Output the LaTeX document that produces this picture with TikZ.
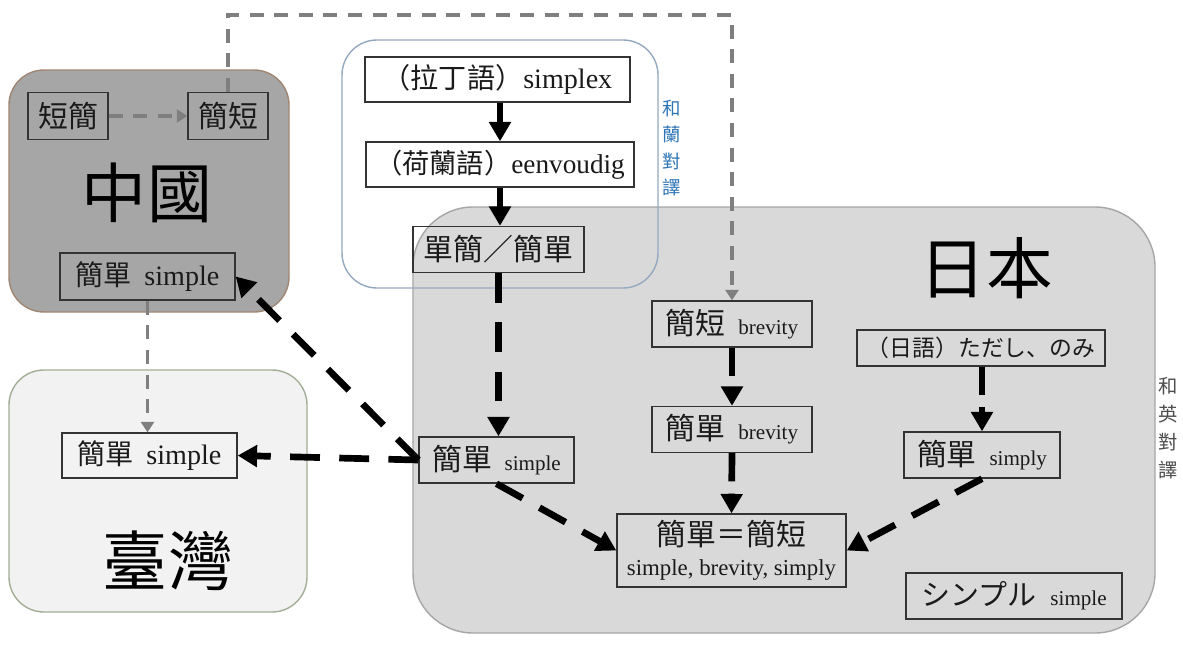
\documentclass[tikz,border=0pt]{standalone}
\usepackage{fontspec}
\setmainfont{Liberation Serif}
\newfontfamily\cjk{Noto Sans CJK TC}
\newfontfamily\cjkjp{Noto Sans CJK JP}
\usetikzlibrary{arrows.meta}
\definecolor{chinafill}{HTML}{A6A6A6}
\definecolor{chinaline}{HTML}{A08672}
\definecolor{twfill}{HTML}{F2F2F2}
\definecolor{twline}{HTML}{A3AE96}
\definecolor{jpfill}{HTML}{D9D9D9}
\definecolor{jpline}{HTML}{A6A6A6}
\definecolor{nlline}{HTML}{94A9BF}
\definecolor{nltext}{HTML}{2E75B6}
\definecolor{grayline}{HTML}{7F7F7F}
\definecolor{boxline}{HTML}{333333}
\definecolor{txt}{HTML}{1A1A1A}
\newcommand{\lat}[1]{{\fontsize{12}{14}\selectfont #1}}
\begin{document}
\begin{tikzpicture}[x=0.02cm,y=-0.02cm,
  bx/.style={draw=boxline, line width=0.8pt, inner sep=0pt, text=txt, font=\fontsize{16}{18}\selectfont},
  sz/.style 2 args={minimum width=#1*0.02cm, minimum height=#2*0.02cm},
  solidarr/.style={line width=3.6pt, -{Triangle[length=11pt,width=12pt]}},
  dasharr/.style={line width=3.8pt, dash pattern=on 17pt off 11pt, -{Triangle[length=11pt,width=12pt]}},
  shortarr/.style={line width=3.8pt, dash pattern=on 16pt off 7pt, -{Triangle[length=11pt,width=12pt]}},
  grayarr/.style={draw=grayline, line width=2.2pt, dash pattern=on 8pt off 6pt, -{Triangle[length=6pt,width=7.5pt]}},
  title/.style={font=\cjk\fontsize{37}{40}\selectfont, text=black},
  vlabel/.style={align=center, inner sep=0pt, font=\cjk\fontsize{10.5}{15}\selectfont},
]
\useasboundingbox (0,0) rectangle (1183,646);
\fill[white] (0,0) rectangle (1183,646);

% region boxes
\draw[fill=jpfill, draw=jpline, line width=0.8pt, rounded corners=1.2cm] (413,207) rectangle (1155,633);
\draw[fill=chinafill, draw=chinaline, line width=0.8pt, rounded corners=0.7cm] (9,70) rectangle (289,312);
\draw[fill=twfill, draw=twline, line width=0.8pt, rounded corners=0.7cm] (9,370) rectangle (307,612);
\draw[draw=nlline, line width=0.8pt, rounded corners=0.7cm] (342,40) rectangle (658,288);

% titles
\node[title] (tCN) at (147,193) {中國};
\node[title] (tTW) at (168,561) {臺灣};
\node[title, font=\cjk\fontsize{38}{40}\selectfont] (tJP) at (986,268) {日本};

% vertical labels
\node[vlabel, text=nltext] (lNL) at (672,148) {和\\蘭\\對\\譯};
\node[vlabel, text=black!70, font=\cjk\fontsize{11}{16}\selectfont] (lEN) at (1168,428) {和\\英\\對\\譯};

% China
\node[bx, sz={80}{47}, font=\cjk\fontsize{17}{19}\selectfont] (cA) at (68,116) {短簡};
\node[bx, sz={80}{47}, font=\cjk\fontsize{17}{19}\selectfont] (cB) at (228,116) {簡短};
\node[bx, sz={175}{47}] (cS) at (147.5,276.5) {{\cjk 簡單}\hspace{0.45em}simple};

% Taiwan
\node[bx, sz={175}{45}] (tS) at (149.5,455.5) {{\cjk 簡單}\hspace{0.45em}simple};

% Dutch
\node[bx, sz={265}{45}, fill=white] (dL) at (497.5,79.5) {{\cjk （拉丁語）}simplex};
\node[bx, sz={268}{45}, fill=white, font=\fontsize{15.5}{18}\selectfont] (dD) at (500,164.5) {{\cjk （荷蘭語）}eenvoudig};
\node[bx, sz={171}{46}, font=\cjk\fontsize{17}{19}\selectfont] (dJ) at (498.5,249.5) {單簡／簡單};

% Japan
\node[bx, sz={160}{46}] (jB1) at (732,324) {{\cjk\fontsize{17}{19}\selectfont 簡短}\hspace{0.45em}\lat{brevity}};
\node[bx, sz={160}{46}] (jB2) at (732,429.5) {{\cjk\fontsize{17}{19}\selectfont 簡單}\hspace{0.45em}\lat{brevity}};
\node[bx, sz={248}{36}, font=\cjkjp\fontsize{13}{15}\selectfont] (jT) at (981,348) {（日語）ただし、のみ};
\node[bx, sz={156}{46}] (jY) at (982,455) {{\cjk\fontsize{17}{19}\selectfont 簡單}\hspace{0.45em}\lat{simply}};
\node[bx, sz={155}{46}] (jS) at (496.5,460) {{\cjk\fontsize{17}{19}\selectfont 簡單}\hspace{0.45em}\lat{simple}};
\node[bx, sz={229}{73}, align=center] (jE) at (731.5,550.5) {{\cjk\fontsize{17}{21}\selectfont 簡單＝簡短}\\[-1pt]{\fontsize{13}{15}\selectfont simple, brevity, simply}};
\node[bx, sz={216}{46}] (jP) at (1014,596) {{\cjkjp\fontsize{16.5}{19}\selectfont シンプル}\hspace{0.5em}\lat{simple}};

% gray connectors
\coordinate (top) at (0,15);
\draw[grayarr] (cA.east) -- (cB.west);
\draw[grayarr] (cB.north) -- (cB.north |- top) -- (jB1.north |- top) -- (jB1.north);
\draw[grayarr] (cS.south) -- (cS.south |- tS.north);

% black connectors
\draw[solidarr] (dL.south -| dD.north) -- (dD.north);
\draw[solidarr] (dD.south) -- (dD.south |- dJ.north);
\draw[dasharr] (dJ.south) -- (dJ.south |- jS.north);
\draw[dasharr] (jS.west) -- (cS.east);
\draw[dasharr] (jS.west) -- (tS.east);
\draw[dasharr] (jS.south) -- (jE.west);
\draw[dasharr] (jY.south) -- (jE.east);
\draw[shortarr] (jB1.south) -- (jB2.north);
\draw[shortarr] (jB2.south) -- (jE.north);
\draw[shortarr] (jT.south -| jY.north) -- (jY.north);
\end{tikzpicture}
\end{document}
